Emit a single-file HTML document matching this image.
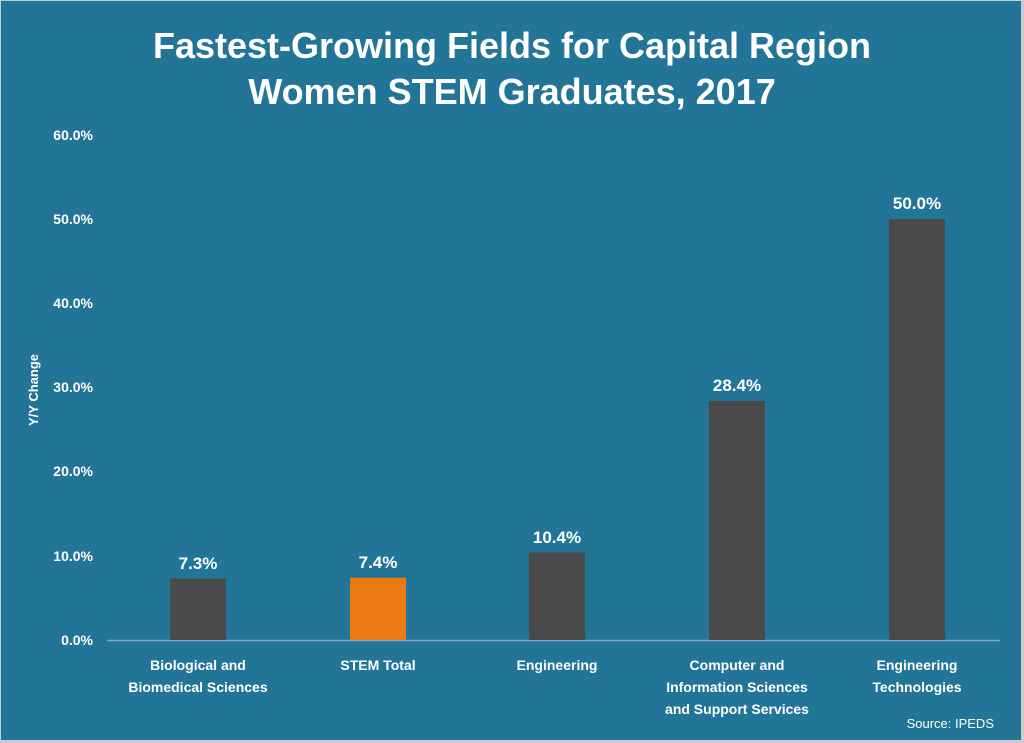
<!DOCTYPE html>
<html><head><meta charset="utf-8"><style>
html,body{margin:0;padding:0;background:#d9d9d9;}
svg{display:block;}
text{font-family:"Liberation Sans",sans-serif;fill:#fff;font-weight:bold;}
</style></head><body>
<svg width="1024" height="743" viewBox="0 0 1024 743">
<rect x="0" y="0" width="1024" height="743" fill="#c8ccd0"/>
<rect x="1" y="1" width="1020" height="739" fill="#237598"/>
<text x="512" y="58" font-size="36" text-anchor="middle">Fastest-Growing Fields for Capital Region</text>
<text x="512" y="104" font-size="36" text-anchor="middle">Women STEM Graduates, 2017</text>
<g font-size="14" text-anchor="end">
<text x="93" y="645">0.0%</text>
<text x="93" y="561">10.0%</text>
<text x="93" y="476">20.0%</text>
<text x="93" y="392">30.0%</text>
<text x="93" y="308">40.0%</text>
<text x="93" y="224">50.0%</text>
<text x="93" y="140">60.0%</text>
</g>
<text transform="translate(38,390) rotate(-90)" font-size="13" text-anchor="middle">Y/Y Change</text>
<line x1="107" y1="640.5" x2="1000" y2="640.5" stroke="#7fa9c0" stroke-width="1.5"/>
<rect x="170" y="578.5" width="56" height="61.5" fill="#4a4a4a"/>
<rect x="350" y="577.7" width="56" height="62.3" fill="#ec7a14"/>
<rect x="529" y="552.4" width="56" height="87.6" fill="#4a4a4a"/>
<rect x="709" y="400.9" width="56" height="239.1" fill="#4a4a4a"/>
<rect x="889" y="219" width="56" height="421" fill="#4a4a4a"/>
<g font-size="17" text-anchor="middle">
<text x="198" y="569">7.3%</text>
<text x="378" y="568">7.4%</text>
<text x="557" y="543">10.4%</text>
<text x="737" y="391">28.4%</text>
<text x="917" y="209">50.0%</text>
</g>
<g font-size="14" text-anchor="middle">
<text x="198" y="670">Biological and</text>
<text x="198" y="692">Biomedical Sciences</text>
<text x="378" y="670">STEM Total</text>
<text x="557" y="670">Engineering</text>
<text x="737" y="670">Computer and</text>
<text x="737" y="692">Information Sciences</text>
<text x="737" y="714">and Support Services</text>
<text x="917" y="670">Engineering</text>
<text x="917" y="692">Technologies</text>
</g>
<text x="994" y="728" font-size="13" font-weight="normal" text-anchor="end" style="font-weight:normal">Source:  IPEDS</text>
</svg>
</body></html>
